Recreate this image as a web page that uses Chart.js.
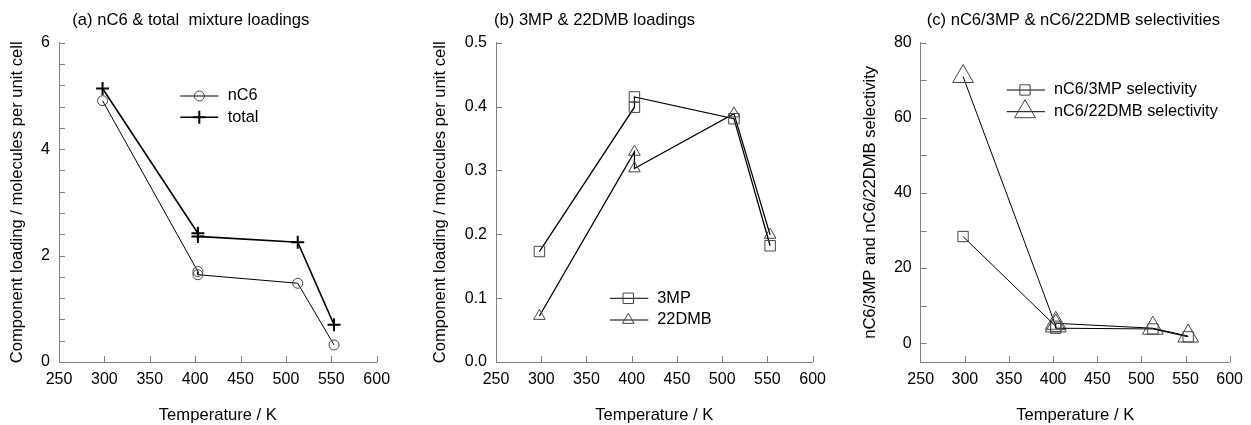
<!DOCTYPE html>
<html lang="en">
<head>
<meta charset="UTF-8">
<title>Mixture loadings and selectivities</title>
<script src="https://cdn.jsdelivr.net/npm/chart.js@4"></script>
<style>
  body { margin: 0; background: #fff; }
  .wrap { position: relative; width: 1251px; height: 425px; overflow: hidden; }
  .panel { position: absolute; top: 0; width: 417px; height: 425px; }
</style>
</head>
<body>
<div class="wrap">
  <div class="panel" style="left:0px"><canvas id="chartA" width="417" height="425"></canvas></div>
  <div class="panel" style="left:417px"><canvas id="chartB" width="417" height="425"></canvas></div>
  <div class="panel" style="left:834px"><canvas id="chartC" width="417" height="425"></canvas></div>
</div>
<script>
// temperatures (K) - 403 K appears twice in the source data
const temps = [298, 403, 403, 513, 553];

// (a) loadings, molecules per unit cell
const loadNC6 = [4.91, 1.70, 1.64, 1.48, 0.32];
const loadTotal = [5.14, 2.42, 2.36, 2.25, 0.70];

// (b) branched isomer loadings
const load3MP = [0.173, 0.399, 0.415, 0.381, 0.182];
const load22DMB = [0.072, 0.329, 0.303, 0.389, 0.199];

// (c) selectivities
const sel3MP = [28.4, 4.5, 4.0, 3.8, 1.7];
const sel22DMB = [71.0, 4.6, 5.3, 4.0, 1.9];

const xTicks = { min: 250, max: 600, step: 50 };

const FONT = '"Liberation Sans", Arial, Helvetica, sans-serif';
const AXIS = '#808080';
const MARK = '#444';
const TITLE_SIZE = 16.6;

const pts = (ys) => temps.map((t, i) => ({ x: t, y: ys[i] }));

function drawMarker(ctx, style, x, y, r) {
    ctx.beginPath();
    if (style === 'circle') {
        ctx.arc(x, y, r, 0, Math.PI * 2);
    } else if (style === 'cross') {
        ctx.moveTo(x - r, y); ctx.lineTo(x + r, y);
        ctx.moveTo(x, y - r); ctx.lineTo(x, y + r);
    } else if (style === 'rect') {
        const s = Math.SQRT1_2 * r;
        ctx.rect(x - s, y - s, 2 * s, 2 * s);
    } else if (style === 'triangle') {
        let a = 0;
        ctx.moveTo(x + Math.sin(a) * r, y - Math.cos(a) * r);
        a += Math.PI * 2 / 3;
        ctx.lineTo(x + Math.sin(a) * r, y - Math.cos(a) * r);
        a += Math.PI * 2 / 3;
        ctx.lineTo(x + Math.sin(a) * r, y - Math.cos(a) * r);
        ctx.closePath();
    }
    ctx.stroke();
}

// inward tick marks, panel title, in-plot legend
const panelDecor = {
    id: 'panelDecor',
    afterDraw(chart, args, opts) {
        const { ctx, chartArea: ca, scales: { x, y } } = chart;
        ctx.save();
        ctx.strokeStyle = AXIS;
        ctx.lineWidth = 1;
        ctx.beginPath();
        x.ticks.forEach(t => {
            const px = Math.round(x.getPixelForValue(t.value)) + 0.5;
            if (px <= ca.left + 2) return;
            ctx.moveTo(px, ca.bottom);
            ctx.lineTo(px, ca.bottom - 6);
        });
        y.ticks.forEach(t => {
            const py = Math.round(y.getPixelForValue(t.value)) + 0.5;
            if (py >= ca.bottom - 2) return;
            ctx.moveTo(ca.left, py);
            ctx.lineTo(ca.left + 6, py);
        });
        ctx.stroke();

        ctx.fillStyle = '#000';
        ctx.font = TITLE_SIZE + 'px ' + FONT;
        ctx.textBaseline = 'middle';
        ctx.textAlign = 'left';
        ctx.fillText(opts.title, opts.tx, opts.ty);

        ctx.font = '16.3px ' + FONT;
        const lg = opts.legend;
        lg.rows.forEach(row => {
            ctx.strokeStyle = '#000';
            ctx.lineWidth = row.lw || 1;
            ctx.beginPath();
            ctx.moveTo(lg.x0, row.y);
            ctx.lineTo(lg.x1, row.y);
            ctx.stroke();
            ctx.strokeStyle = row.mc || MARK;
            ctx.lineWidth = row.mw || 1;
            drawMarker(ctx, row.style, lg.xm, row.y, row.r);
            ctx.fillStyle = '#000';
            ctx.fillText(row.label, lg.xt, row.y);
        });
        ctx.restore();
    }
};

function series(data, style, r, opts = {}) {
    return Object.assign({
        data: data,
        showLine: true,
        tension: 0,
        borderColor: '#000',
        borderWidth: 1,
        pointStyle: style,
        pointRadius: r,
        pointBorderColor: MARK,
        pointBorderWidth: 1,
        pointBackgroundColor: 'rgba(0,0,0,0)',
        backgroundColor: 'rgba(0,0,0,0)'
    }, opts);
}

function makePanel(id, p) {
    new Chart(document.getElementById(id), {
        type: 'scatter',
        data: { datasets: p.datasets },
        plugins: [panelDecor],
        options: {
            responsive: false,
            animation: false,
            events: [],
            layout: { padding: { left: 0, top: 42.7, right: p.padRight, bottom: 0 } },
            plugins: {
                legend: { display: false },
                tooltip: { enabled: false },
                panelDecor: p.decor
            },
            scales: {
                x: {
                    type: 'linear',
                    min: xTicks.min, max: xTicks.max,
                    afterFit: (s) => { s.height = 63; },
                    grid: { display: false, drawTicks: false },
                    border: { display: true, color: AXIS, width: 1 },
                    ticks: { stepSize: xTicks.step, padding: 8, color: '#000', font: { family: FONT, size: 16 } },
                    title: { display: true, text: 'Temperature / K', color: '#000', padding: { top: 0, bottom: 0 }, font: { family: FONT, size: TITLE_SIZE } }
                },
                y: {
                    type: 'linear',
                    min: p.yMin, max: p.yMax,
                    afterFit: (s) => { s.width = p.yWidth; },
                    grid: { display: false, drawTicks: false },
                    border: { display: true, color: AXIS, width: 1 },
                    ticks: {
                        stepSize: p.yStep, padding: 9, includeBounds: false, color: '#000',
                        maxTicksLimit: 30, autoSkip: false,
                        font: { family: FONT, size: 16 },
                        callback: p.yLabel
                    },
                    title: { display: true, text: p.yTitle, color: '#000', padding: { top: p.yTitlePad, bottom: 0 }, font: { family: FONT, size: TITLE_SIZE } }
                }
            }
        }
    });
}

const every = (n, digits) => (v) => {
    const k = Math.round(v / n);
    if (Math.abs(v - k * n) > 1e-6) return '';
    return (k * n).toFixed(digits);
};

makePanel('chartA', {
    datasets: [
        series(pts(loadNC6), 'circle', 5),
        series(pts(loadTotal), 'cross', 6.5, { borderWidth: 1.6, pointBorderWidth: 2, pointBorderColor: '#000' })
    ],
    yMin: 0, yMax: 6, yStep: 0.4, yLabel: every(2, 0),
    yWidth: 59, yTitlePad: 7, padRight: 40.3,
    yTitle: 'Component loading / molecules per unit cell',
    decor: {
        title: '(a) nC6 & total  mixture loadings', tx: 72.3, ty: 20.7,
        legend: {
            x0: 180.3, x1: 218.3, xm: 199.3, xt: 227.7,
            rows: [
                { y: 96, label: 'nC6', style: 'circle', r: 5 },
                { y: 117.3, label: 'total', style: 'cross', r: 6.5, lw: 1.6, mw: 2, mc: '#000' }
            ]
        }
    }
});

makePanel('chartB', {
    datasets: [
        series(pts(load3MP), 'rect', 7.4, { borderWidth: 1.3 }),
        series(pts(load22DMB), 'triangle', 6.7, { borderWidth: 1.3 })
    ],
    yMin: 0, yMax: 0.5, yStep: 0.1, yLabel: every(0.1, 1),
    yWidth: 79, yTitlePad: 13, padRight: 20.7,
    yTitle: 'Component loading / molecules per unit cell',
    decor: {
        title: '(b) 3MP & 22DMB loadings', tx: 77, ty: 20.7,
        legend: {
            x0: 193, x1: 231.3, xm: 211.3, xt: 240.3,
            rows: [
                { y: 298.3, label: '3MP', style: 'rect', r: 7.4 },
                { y: 320, label: '22DMB', style: 'triangle', r: 6.7 }
            ]
        }
    }
});

makePanel('chartC', {
    datasets: [
        series(pts(sel3MP), 'rect', 7.3),
        series(pts(sel22DMB), 'triangle', 12)
    ],
    yMin: -5, yMax: 80, yStep: 10, yLabel: every(20, 0),
    yWidth: 86.7, yTitlePad: 26.6, padRight: 13.7,
    yTitle: 'nC6/3MP and nC6/22DMB selectivity',
    decor: {
        title: '(c) nC6/3MP & nC6/22DMB selectivities', tx: 92.7, ty: 20.7,
        legend: {
            x0: 172.7, x1: 211, xm: 191, xt: 220,
            rows: [
                { y: 90, label: 'nC6/3MP selectivity', style: 'rect', r: 7.3 },
                { y: 111.7, label: 'nC6/22DMB selectivity', style: 'triangle', r: 12 }
            ]
        }
    }
});
</script>
</body>
</html>
